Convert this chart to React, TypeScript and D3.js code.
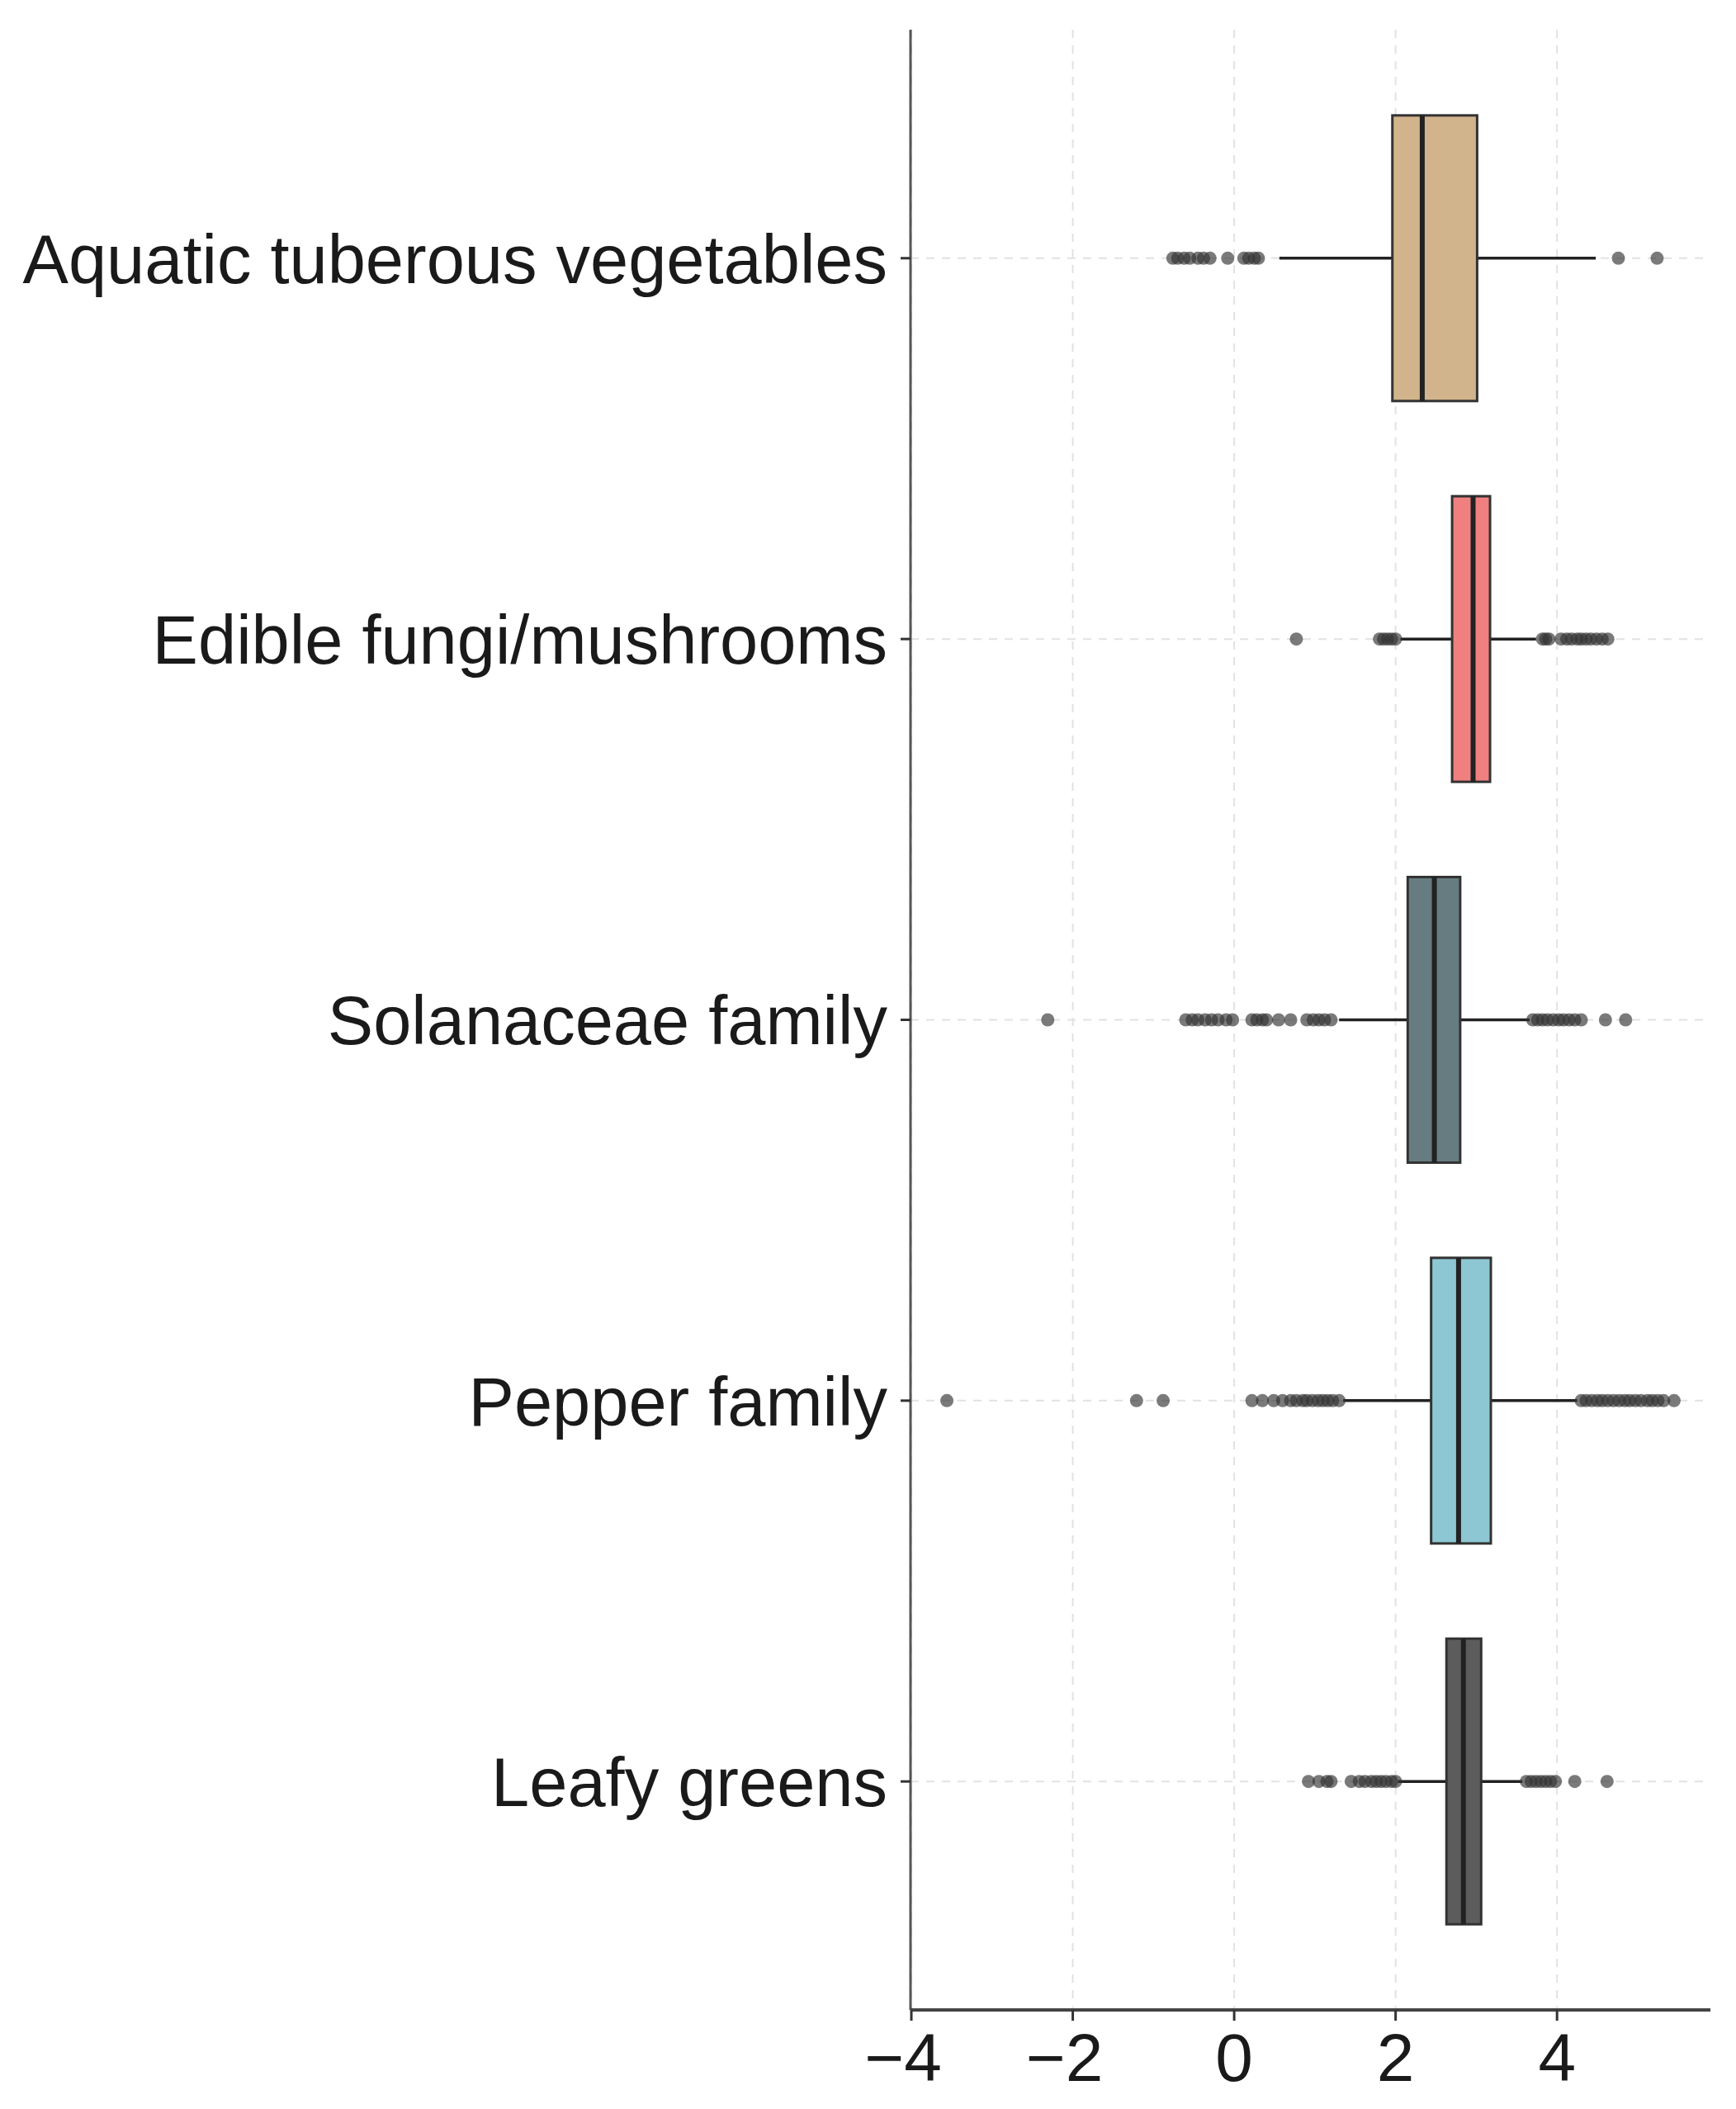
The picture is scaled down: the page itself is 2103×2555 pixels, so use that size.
import React from "react";
import * as d3 from "d3";

// box statistics, one entry per category
const categories = [
  "Aquatic tuberous vegetables",
  "Edible fungi/mushrooms",
  "Solanaceae family",
  "Pepper family",
  "Leafy greens",
];
const q1 = [1.96, 2.7, 2.15, 2.44, 2.63];
const medians = [2.33, 2.96, 2.48, 2.78, 2.84];
const q3 = [3.01, 3.17, 2.8, 3.18, 3.06];
const whiskerLow = [0.56, 2.06, 1.3, 1.35, 2.03];
const whiskerHigh = [4.48, 3.74, 3.66, 4.25, 3.57];

const outliersAquatic = [-0.76, -0.7, -0.62, -0.55, -0.45, -0.38, -0.3, -0.08, 0.12, 0.18, 0.25, 0.3, 4.76, 5.24];
const outliersFungi = [0.77, 1.8, 1.85, 1.9, 1.95, 2.0, 3.82, 3.86, 3.9, 4.05, 4.12, 4.18, 4.25, 4.3, 4.36, 4.42, 4.49, 4.56, 4.63];
const outliersSolanaceae = [
  -2.31, -0.6, -0.52, -0.45, -0.36, -0.28, -0.2, -0.1, -0.02, 0.22, 0.28, 0.35, 0.4, 0.55, 0.7, 0.9, 0.98, 1.05,
  1.12, 1.2, 3.7, 3.76, 3.82, 3.88, 3.95, 4.02, 4.08, 4.15, 4.22, 4.3, 4.6, 4.85,
];
const outliersPepper = [
  -3.56, -1.21, -0.88, 0.22, 0.35, 0.49, 0.6, 0.7, 0.77, 0.85, 0.9, 0.97, 1.04, 1.1, 1.16, 1.22, 1.3, 4.3, 4.36,
  4.43, 4.5, 4.56, 4.63, 4.7, 4.77, 4.84, 4.9, 4.97, 5.04, 5.12, 5.18, 5.25, 5.32, 5.45,
];
const outliersLeafy = [
  0.92, 1.05, 1.15, 1.2, 1.45, 1.55, 1.62, 1.7, 1.76, 1.82, 1.88, 1.95, 2.0, 3.62, 3.68, 3.74, 3.8, 3.86, 3.92,
  3.98, 4.22, 4.62,
];
const outliers = [outliersAquatic, outliersFungi, outliersSolanaceae, outliersPepper, outliersLeafy];

const fills = ["#D2B48C", "#F08080", "#667C80", "#8DC7D3", "#5C5C5C"];
const xTicks = [-4, -2, 0, 2, 4];

const W = 2103;
const H = 2555;
const margin = { left: 1103, right: 31, top: 36, bottom: 120 };
const font = "'Liberation Sans', Arial, sans-serif";

export default function App() {
  const all = outliers.flat().concat(whiskerLow, whiskerHigh);
  const lo = d3.min(all) as number;
  const hi = d3.max(all) as number;
  const pad = (hi - lo) * 0.05;

  const x = d3
    .scaleLinear()
    .domain([lo - pad, hi + pad])
    .range([margin.left, W - margin.right]);
  const y = d3
    .scalePoint<string>()
    .domain(categories)
    .range([margin.top, H - margin.bottom])
    .padding(0.6);
  const half = (y.step() * 0.75) / 2;
  const [x0, x1] = x.range();
  const [y0, y1] = y.range();

  const fmt = (v: number) => (v < 0 ? "\u2212" + Math.abs(v) : String(v));

  return (
    <svg
      width={W}
      height={H}
      viewBox={`0 0 ${W} ${H}`}
      style={{ position: "absolute", left: 0, top: 0, background: "#fff" }}
    >
      {/* grid */}
      <g stroke="#e2e2e2" strokeWidth={2} strokeDasharray="10 9">
        {xTicks.map((t) => (
          <line key={"gx" + t} x1={x(t)} x2={x(t)} y1={y0} y2={y1} />
        ))}
        {categories.map((c) => (
          <line key={"gy" + c} x1={x0} x2={x1} y1={y(c)} y2={y(c)} />
        ))}
      </g>

      {/* boxes */}
      {categories.map((c, i) => {
        const cy = y(c) as number;
        return (
          <g key={c}>
            <line x1={x(whiskerLow[i])} x2={x(q1[i])} y1={cy} y2={cy} stroke="#222" strokeWidth={3.5} />
            <line x1={x(q3[i])} x2={x(whiskerHigh[i])} y1={cy} y2={cy} stroke="#222" strokeWidth={3.5} />
            <rect
              x={x(q1[i])}
              y={cy - half}
              width={x(q3[i]) - x(q1[i])}
              height={half * 2}
              fill={fills[i]}
              stroke="#333"
              strokeWidth={3}
            />
            <line
              x1={x(medians[i])}
              x2={x(medians[i])}
              y1={cy - half}
              y2={cy + half}
              stroke="#222"
              strokeWidth={6}
            />
            {outliers[i].map((v, j) => (
              <circle key={j} cx={x(v)} cy={cy} r={8} fill="#333" fillOpacity={0.65} />
            ))}
          </g>
        );
      })}

      {/* y axis */}
      <line x1={x0} x2={x0} y1={y0} y2={y1} stroke="#555" strokeWidth={3} />
      {categories.map((c) => (
        <g key={"ly" + c} transform={`translate(${x0},${y(c)})`}>
          <line x1={-12} x2={0} stroke="#333" strokeWidth={3} />
          <text x={-28} dy="0.36em" textAnchor="end" fontFamily={font} fontSize={83} fill="#1a1a1a">
            {c}
          </text>
        </g>
      ))}

      {/* x axis */}
      <line x1={x0} x2={x1} y1={y1} y2={y1} stroke="#444" strokeWidth={4} />
      {xTicks.map((t) => (
        <g key={"lx" + t} transform={`translate(${x(t)},${y1})`}>
          <line y1={0} y2={13} stroke="#333" strokeWidth={3} />
          <text
            y={86}
            dx={t < 0 ? -10 : 0}
            textAnchor="middle"
            fontFamily={font}
            fontSize={82}
            fill="#1a1a1a"
          >
            {fmt(t)}
          </text>
        </g>
      ))}
    </svg>
  );
}
